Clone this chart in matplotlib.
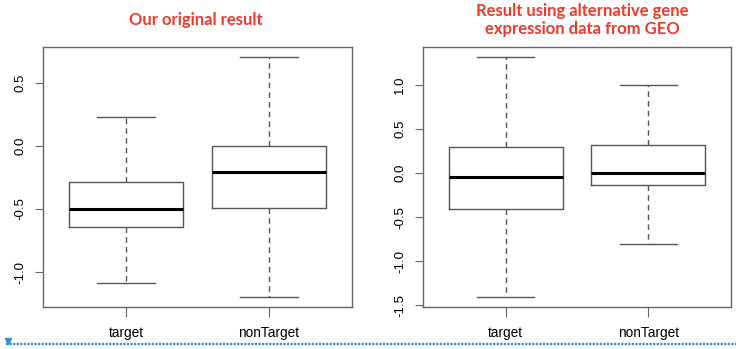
import matplotlib
matplotlib.use("Agg")
import matplotlib.pyplot as plt
from matplotlib.lines import Line2D

# box statistics (whislo, q1, med, q3, whishi)
groups = ["target", "nonTarget"]
left_target = [-1.085, -0.64, -0.50, -0.283, 0.23]
left_nontarget = [-1.20, -0.494, -0.209, 0.0, 0.706]
right_target = [-1.41, -0.41, -0.04, 0.29, 1.32]
right_nontarget = [-0.80, -0.13, 0.0, 0.32, 1.00]

left_ticks = [-1.0, -0.5, 0.0, 0.5]
right_ticks = [-1.5, -1.0, -0.5, 0.0, 0.5, 1.0]

titles = ["Our original result", "Result using alternative gene\nexpression data from GEO"]

plt.rcParams['font.family'] = ['Liberation Sans', 'DejaVu Sans']

frame_col = '#666666'
box_col = '#555555'


def make_stats(vals, label):
    lo, q1, med, q3, hi = vals
    return dict(whislo=lo, q1=q1, med=med, q3=q3, whishi=hi, fliers=[], label=label)


def draw_panel(ax, data, ticks, fmt):
    stats = [make_stats(v, g) for v, g in zip(data, groups)]
    ax.bxp(stats, positions=[1, 2], widths=0.8, showfliers=False,
           boxprops=dict(color=box_col, linewidth=1.0),
           medianprops=dict(color='black', linewidth=2.2),
           whiskerprops=dict(color=box_col, linewidth=1.0, linestyle=(0, (4, 3))),
           capprops=dict(color=box_col, linewidth=1.0),
           capwidths=0.4)
    lo = min(v[0] for v in data)
    hi = max(v[4] for v in data)
    pad = (hi - lo) * 0.04
    ax.set_ylim(lo - pad, hi + pad)
    ax.set_xlim(0.42, 2.58)
    ax.set_yticks(ticks)
    ax.set_yticklabels([fmt.format(t) for t in ticks], rotation=90, va='center', fontsize=9.5)
    ax.set_xticks([1, 2])
    ax.set_xticklabels(groups, fontsize=9.8)
    ax.tick_params(axis='y', length=6, width=0.8, color=frame_col, pad=6)
    ax.tick_params(axis='x', length=7, width=0.8, color=frame_col, pad=7)
    for s in ax.spines.values():
        s.set_color(frame_col)
        s.set_linewidth(1.0)


fig = plt.figure(figsize=(7.36, 3.49), dpi=100)
ax1 = fig.add_axes([0.0584, 0.1203, 0.4198, 0.745])
ax2 = fig.add_axes([0.5747, 0.1203, 0.4185, 0.745])

draw_panel(ax1, [left_target, left_nontarget], left_ticks, "{:.1f}")
draw_panel(ax2, [right_target, right_nontarget], right_ticks, "{:.1f}")

red = '#ee3a2c'
fig.text(0.266, 0.942, titles[0], color=red, fontsize=12, fontweight='bold',
         family=['Lato', 'DejaVu Sans'], ha='center', va='center')
fig.text(0.791, 0.943, titles[1], color=red, fontsize=12, fontweight='bold',
         family=['Lato', 'DejaVu Sans'], ha='center', va='center', linespacing=1.2)

# blue dotted rule along the bottom edge
blue = '#2e90d8'
fig.add_artist(Line2D([0.008, 1.0], [0.015, 0.015], color=blue, linewidth=1.6,
                      linestyle=(0, (1, 0.6)), transform=fig.transFigure))
fig.add_artist(Line2D([0.011], [0.022], marker='v', color=blue, markersize=5,
                      linestyle='none', transform=fig.transFigure))

fig.savefig("out.png", dpi=100)
